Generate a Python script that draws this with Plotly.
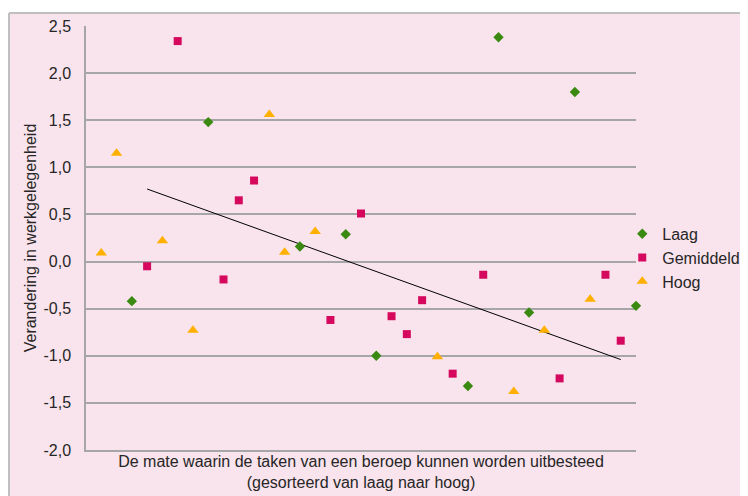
import plotly.graph_objects as go

# positie in de rangorde (1 = laag, 36 = hoog) en verandering in werkgelegenheid
laag_x = [3, 8, 14, 17, 19, 25, 27, 29, 32, 36]
laag_y = [-0.42, 1.48, 0.16, 0.29, -1.00, -1.32, 2.38, -0.54, 1.80, -0.47]

gem_x = [4, 6, 9, 10, 11, 16, 18, 20, 21, 22, 24, 26, 31, 34, 35]
gem_y = [-0.05, 2.34, -0.19, 0.65, 0.86, -0.62, 0.51, -0.58, -0.77, -0.41,
         -1.19, -0.14, -1.24, -0.14, -0.84]

hoog_x = [1, 2, 5, 7, 12, 13, 15, 23, 28, 30, 33]
hoog_y = [0.09, 1.15, 0.22, -0.73, 1.56, 0.10, 0.32, -1.01, -1.38, -0.73, -0.40]

trend_x = [4, 35]
trend_y = [0.77, -1.04]

y_ticks = [-2.0, -1.5, -1.0, -0.5, 0.0, 0.5, 1.0, 1.5, 2.0, 2.5]
y_labels = ["-2,0", "-1,5", "-1,0", "-0,5", "0,0", "0,5", "1,0", "1,5", "2,0", "2,5"]

PINK = "#F9E3EC"
GRID = "#A6A6A6"
TXT = "#262626"

fig = go.Figure()
fig.add_trace(go.Scatter(
    x=trend_x, y=trend_y, mode="lines", showlegend=False,
    line=dict(color="black", width=1), hoverinfo="skip"
))
fig.add_trace(go.Scatter(
    x=laag_x, y=laag_y, mode="markers", name="Laag", cliponaxis=False,
    marker=dict(symbol="diamond", size=8, color="#3A8A12")
))
fig.add_trace(go.Scatter(
    x=gem_x, y=gem_y, mode="markers", name="Gemiddeld", cliponaxis=False,
    marker=dict(symbol="square", size=8, color="#D6085E")
))
fig.add_trace(go.Scatter(
    x=hoog_x, y=hoog_y, mode="markers", name="Hoog", cliponaxis=False,
    marker=dict(symbol="triangle-up", size=10, color="#FFB000")
))

# witte strook boven de grafiek en grijze rand
fig.add_shape(type="rect", xref="paper", yref="paper",
              x0=-0.3, x1=1.4, y0=1.0307, y1=1.2,
              fillcolor="white", line_width=0, layer="above")
fig.add_shape(type="line", xref="paper", yref="paper",
              x0=-0.14, x1=1.4, y0=1.0307, y1=1.0307,
              line=dict(color="#BFBFBF", width=2), layer="above")
fig.add_shape(type="line", xref="paper", yref="paper",
              x0=-0.14, x1=-0.14, y0=-0.3, y1=1.0307,
              line=dict(color="#BFBFBF", width=2), layer="above")

fig.update_layout(
    width=740, height=488,
    paper_bgcolor=PINK, plot_bgcolor=PINK,
    font=dict(family="Liberation Sans, Arial, sans-serif", size=16, color=TXT),
    margin=dict(l=78, r=112, t=18, b=46, autoexpand=False),
    xaxis=dict(
        range=[0, 36], showgrid=False, zeroline=False, automargin=False,
        showticklabels=False, ticks="",
        showline=True, linecolor=GRID, linewidth=1.5,
        title=dict(
            text="De mate waarin de taken van een beroep kunnen worden uitbesteed"
                 "<br>(gesorteerd van laag naar hoog)",
            font=dict(size=16, color=TXT), standoff=5
        )
    ),
    yaxis=dict(
        range=[-2.0, 2.5], tickvals=y_ticks, ticktext=y_labels,
        showgrid=True, gridcolor=GRID, gridwidth=1.5, zeroline=False,
        showline=True, linecolor=GRID, linewidth=1.5, automargin=False,
        ticks="", ticklabelstandoff=10,
        tickfont=dict(size=16, color=TXT),
        title=dict(text="Verandering in werkgelegenheid",
                   font=dict(size=16, color=TXT), standoff=3)
    ),
    legend=dict(
        x=0.975, y=0.55, xanchor="left", yanchor="top",
        bgcolor="rgba(0,0,0,0)", font=dict(size=16, color=TXT),
        itemwidth=30, tracegroupgap=0
    ),
)

fig.write_html("out.html")
